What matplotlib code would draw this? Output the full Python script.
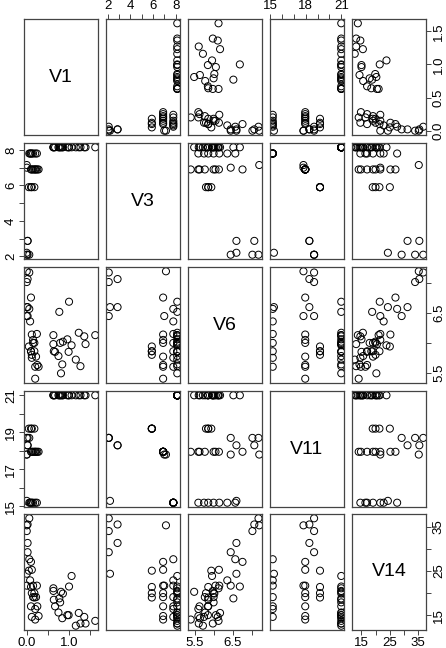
import matplotlib
matplotlib.use('Agg')
import matplotlib.pyplot as plt
import numpy as np

plt.rcParams['font.family'] = ['Liberation Sans', 'DejaVu Sans']

names = ['V1', 'V3', 'V6', 'V11', 'V14']

# groups: A (20) | low V3 (7) | B (7) | C (9) | D (4)
v1 = [1.62, 1.39, 1.36, 1.27, 1.23, 1.16, 1.06, 1.00, 0.99, 0.96,
      0.855, 0.84, 0.81, 0.79, 0.77, 0.75, 0.67, 0.64, 0.63, 0.63,
      0.06, 0.00, 0.02, 0.00, 0.02, 0.02, 0.00,
      0.06, 0.08, 0.24, 0.15, 0.10, 0.20, 0.12,
      0.10, 0.12, 0.15, 0.18, 0.22, 0.25, 0.28, 0.20, 0.00,
      0.05, 0.10, 0.12, 0.18]
v3 = [8.15] * 20 + \
     [2.09, 2.09, 2.09, 2.20, 2.87, 2.87, 7.15] + \
     [7.80] * 7 + \
     [6.90] * 8 + [7.00] + \
     [5.90] * 4
v6 = [6.13, 5.98, 6.11, 5.61, 6.17, 5.72, 5.96, 6.69, 5.85, 6.06,
      6.02, 5.64, 5.49, 6.00, 6.52, 5.78, 5.85, 5.86, 5.98, 6.13,
      7.18, 7.02, 6.45, 6.60, 7.07, 6.60, 7.20,
      6.57, 6.36, 6.15, 6.00, 5.86, 5.60, 5.75,
      6.76, 6.14, 6.05, 6.00, 5.77, 5.63, 5.60, 5.40, 6.45,
      5.94, 5.86, 5.80, 5.86]
v11 = [21.0] * 20 + \
      [18.7, 18.7, 18.7, 15.3, 18.3, 18.3, 17.8] + \
      [15.2] * 7 + \
      [17.95] * 8 + [17.8] + \
      [19.2] * 4
v14 = [13.7, 13.1, 14.6, 13.1, 15.5, 12.6, 23.9, 21.5, 15.0, 15.0,
       19.9, 14.3, 20.3, 17.9, 18.8, 15.6, 17.0, 18.5, 20.5, 21.1,
       37.0, 34.1, 29.3, 24.4, 35.6, 31.4, 35.4,
       27.7, 22.9, 21.7, 19.1, 17.0, 16.4, 14.6,
       27.1, 25.3, 21.7, 20.0, 19.1, 17.0, 14.8, 14.0, 21.7,
       25.1, 21.4, 20.0, 19.0]

data = [v1, v3, v6, v11, v14]

# ticks and which of them get a label
ticks = [[0.0, 0.5, 1.0, 1.5],
         [2, 3, 4, 5, 6, 7, 8],
         [5.5, 6.0, 6.5, 7.0],
         [15, 16, 17, 18, 19, 20, 21],
         [15, 20, 25, 30, 35]]
xlabs = [['0.0', '', '1.0', ''],
         ['2', '', '4', '', '6', '', '8'],
         ['5.5', '', '6.5', ''],
         ['15', '', '', '18', '', '', '21'],
         ['15', '', '25', '', '35']]
ylabs = [['0.0', '0.5', '1.0', '1.5'],
         ['2', '', '4', '', '6', '', '8'],
         ['5.5', '', '6.5', ''],
         ['15', '', '17', '', '19', '', '21'],
         ['15', '', '25', '', '35']]

W, H = 446, 648
fig = plt.figure(figsize=(W / 100, H / 100), dpi=100)

col_x = [24, 106, 188, 270, 352]
row_y = [19, 143, 267, 391, 514]
pw, ph = 74, 116
n = len(names)


def lims(v):
    lo, hi = min(v), max(v)
    r = hi - lo
    return lo - 0.04 * r, hi + 0.04 * r


for i in range(n):
    for j in range(n):
        ax = fig.add_axes([col_x[j] / W, 1 - (row_y[i] + ph) / H, pw / W, ph / H])
        ax.set_xlim(lims(data[j]))
        ax.set_ylim(lims(data[i]))
        for s in ax.spines.values():
            s.set_color('#444444')
            s.set_linewidth(0.9)
        ax.set_xticks([])
        ax.set_yticks([])
        if i == j:
            ax.text(0.5, 0.5, names[i], transform=ax.transAxes,
                    ha='center', va='center', fontsize=14)
        else:
            ax.scatter(data[j], data[i], s=26, facecolors='none',
                       edgecolors='black', linewidths=0.7)

        tp = dict(length=3.5, width=0.7, color='#444444', labelsize=9.5,
                  pad=1.5, labelcolor='black')
        if i == 0 and j % 2 == 1:
            ax.xaxis.tick_top()
            ax.set_xticks(ticks[j])
            ax.set_xticklabels(xlabs[j])
            ax.tick_params(axis='x', **tp)
        if i == n - 1 and j % 2 == 0:
            ax.set_xticks(ticks[j])
            ax.set_xticklabels(xlabs[j])
            ax.tick_params(axis='x', **tp)
        if j == 0 and i % 2 == 1:
            ax.set_yticks(ticks[i])
            ax.set_yticklabels(ylabs[i], rotation=90, va='center')
            ax.tick_params(axis='y', **tp)
        if j == n - 1 and i % 2 == 0:
            ax.yaxis.tick_right()
            ax.set_yticks(ticks[i])
            ax.set_yticklabels(ylabs[i], rotation=90, va='center')
            ax.tick_params(axis='y', **tp)

fig.savefig('out.png', dpi=100)
